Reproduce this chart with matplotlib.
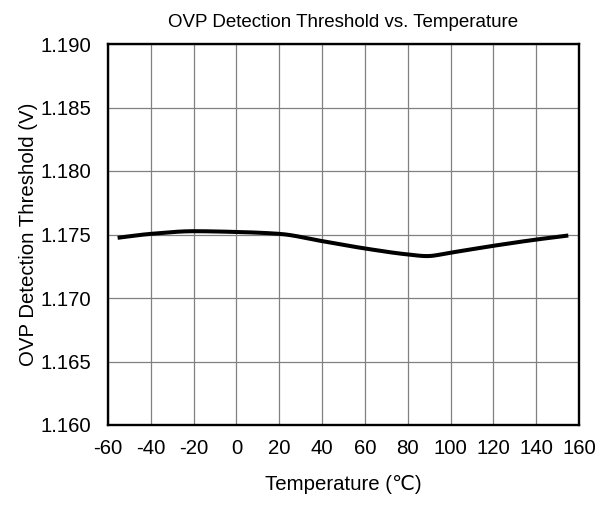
import matplotlib
matplotlib.use("Agg")
import matplotlib.pyplot as plt
import numpy as np

plt.rcParams['font.family'] = ['Liberation Sans', 'DejaVu Sans']
plt.rcParams['axes.unicode_minus'] = False

temp = [-55.5, -40, -20, 0, 20, 40, 60, 80, 89, 100, 120, 140, 155]
vth = [1.17474, 1.17505, 1.17526, 1.1752, 1.17505, 1.17448, 1.17390, 1.17343,
       1.1733, 1.17357, 1.17411, 1.1746, 1.17492]
xticks = list(range(-60, 161, 20))
yticks = [1.160, 1.165, 1.170, 1.175, 1.180, 1.185, 1.190]
ytick_labels = ["1.160", "1.165", "1.170", "1.175", "1.180", "1.185", "1.190"]

fig = plt.figure(figsize=(5.97, 5.05), dpi=100)
ax = fig.add_axes([108/597, 80/505, 471/597, 381/505])

def pchip(x, y, xn):
    x = np.asarray(x, float); y = np.asarray(y, float)
    h = np.diff(x); d = np.diff(y) / h
    m = np.zeros_like(y)
    for i in range(1, len(y) - 1):
        if d[i-1] * d[i] > 0:
            w1 = 2*h[i] + h[i-1]; w2 = h[i] + 2*h[i-1]
            m[i] = (w1 + w2) / (w1/d[i-1] + w2/d[i])
    m[0] = d[0]; m[-1] = d[-1]
    idx = np.clip(np.searchsorted(x, xn) - 1, 0, len(h) - 1)
    t = (xn - x[idx]) / h[idx]
    h00 = 2*t**3 - 3*t**2 + 1; h10 = t**3 - 2*t**2 + t
    h01 = -2*t**3 + 3*t**2; h11 = t**3 - t**2
    return h00*y[idx] + h10*h[idx]*m[idx] + h01*y[idx+1] + h11*h[idx]*m[idx+1]

xs = np.linspace(temp[0], temp[-1], 400)
ax.plot(xs, pchip(temp, vth, xs), color='black', lw=2.9, solid_capstyle='butt')

ax.set_xlim(-60, 160)
ax.set_ylim(1.160, 1.190)
ax.set_xticks(xticks)
ax.set_yticks(yticks)
ax.set_yticklabels(ytick_labels)
ax.tick_params(length=0, labelsize=14.7)
ax.tick_params(axis='x', pad=10)
ax.tick_params(axis='y', pad=12)
ax.grid(True, color='#808080', lw=0.9)
ax.set_axisbelow(True)
for s in ax.spines.values():
    s.set_linewidth(1.7)
    s.set_color('black')

ax.set_title("OVP Detection Threshold vs. Temperature", fontsize=13.5, pad=12)
ax.set_xlabel("Temperature (℃)", fontsize=14.7, labelpad=12)
ax.set_ylabel("OVP Detection Threshold (V)", fontsize=14.7, labelpad=2)

fig.savefig("out.png", dpi=100)
